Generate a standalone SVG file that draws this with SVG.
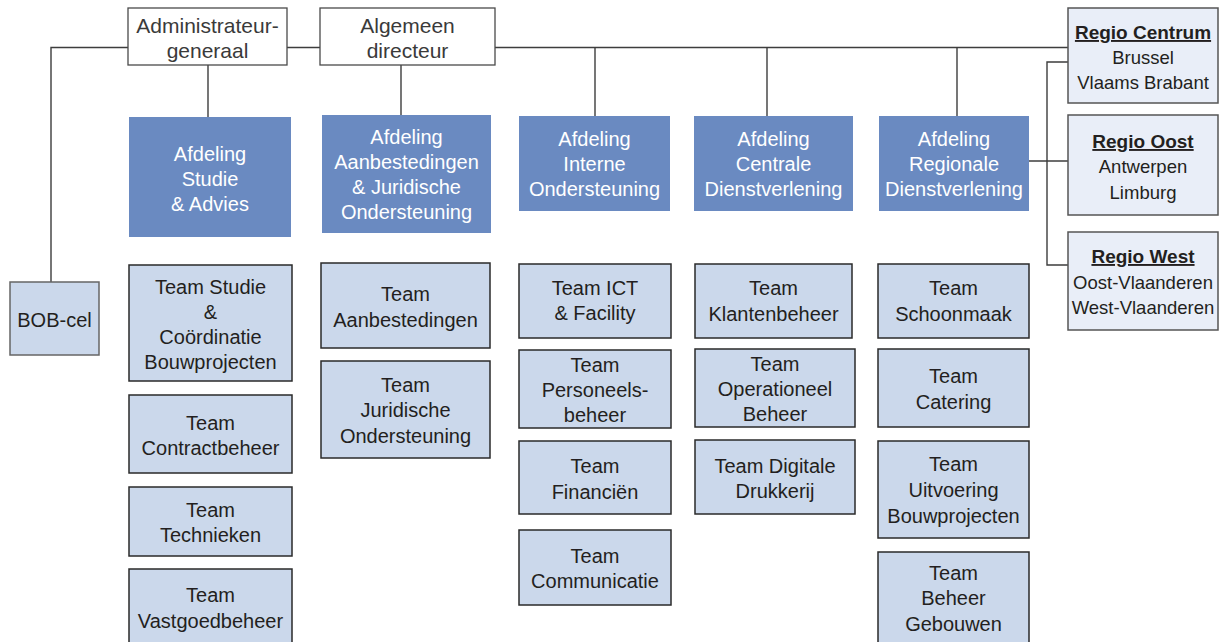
<svg xmlns="http://www.w3.org/2000/svg" width="1222" height="642" viewBox="0 0 1222 642">
<style>
.c{stroke:#3d3d3d;stroke-width:1.4;fill:none}
.top{fill:#fff;stroke:#4a4a4a;stroke-width:1.3}
.afd{fill:#6a8ac1}
.team{fill:#cbd8eb;stroke:#2a2a2a;stroke-width:1.5}
.bob{fill:#cbd8eb;stroke:#666;stroke-width:1.5}
.reg{fill:#e9eef8;stroke:#555;stroke-width:1.5}
text{font-family:"Liberation Sans",Arial,sans-serif;text-anchor:middle}
.tt{font-size:21px;fill:#3a3a3a}
.ta{font-size:20px;fill:#fff}
.tm{font-size:20px;fill:#231f20}
.tr{font-size:18.5px;fill:#231f20}
.trb{font-size:19px;font-weight:bold;text-decoration:underline;fill:#231f20}
</style>
<g id="connectors">
<path class="c" d="M51,282 V47.5 H1068"/>
<path class="c" d="M208,65 V117"/>
<path class="c" d="M401,65 V115"/>
<path class="c" d="M595,47.5 V116"/>
<path class="c" d="M767,47.5 V116"/>
<path class="c" d="M957,47.5 V116"/>
<path class="c" d="M1068,62 H1047 V265 H1068"/>
<path class="c" d="M1029,161 H1068"/>
</g>
<g id="admin"><rect class="top" x="128" y="8" width="159" height="57"/><text class="tt" x="207.5" y="32.5">Administrateur-</text><text class="tt" x="207.5" y="57.5">generaal</text></g>
<g id="algemeen"><rect class="top" x="320" y="8" width="175" height="57"/><text class="tt" x="407.5" y="32.5">Algemeen</text><text class="tt" x="407.5" y="57.5">directeur</text></g>
<g id="afd-studie"><rect class="afd" x="129" y="117" width="162" height="120"/><text class="ta" x="210" y="161">Afdeling</text><text class="ta" x="210" y="186">Studie</text><text class="ta" x="210" y="211">&amp; Advies</text></g>
<g id="afd-aanbest"><rect class="afd" x="322" y="115" width="169" height="118"/><text class="ta" x="406.5" y="144">Afdeling</text><text class="ta" x="406.5" y="169">Aanbestedingen</text><text class="ta" x="406.5" y="194">&amp; Juridische</text><text class="ta" x="406.5" y="219">Ondersteuning</text></g>
<g id="afd-interne"><rect class="afd" x="519" y="116" width="151" height="95"/><text class="ta" x="594.5" y="146">Afdeling</text><text class="ta" x="594.5" y="171">Interne</text><text class="ta" x="594.5" y="196">Ondersteuning</text></g>
<g id="afd-centrale"><rect class="afd" x="694" y="116" width="159" height="95"/><text class="ta" x="773.5" y="146">Afdeling</text><text class="ta" x="773.5" y="171">Centrale</text><text class="ta" x="773.5" y="196">Dienstverlening</text></g>
<g id="afd-regionale"><rect class="afd" x="879" y="116" width="150" height="95"/><text class="ta" x="954" y="146">Afdeling</text><text class="ta" x="954" y="171">Regionale</text><text class="ta" x="954" y="196">Dienstverlening</text></g>
<g id="regio-centrum"><rect class="reg" x="1068" y="8" width="150" height="95"/><text class="trb" x="1143" y="39">Regio Centrum</text><text class="tr" x="1143" y="64">Brussel</text><text class="tr" x="1143" y="89">Vlaams Brabant</text></g>
<g id="regio-oost"><rect class="reg" x="1068" y="115" width="150" height="100"/><text class="trb" x="1143" y="148">Regio Oost</text><text class="tr" x="1143" y="173">Antwerpen</text><text class="tr" x="1143" y="199">Limburg</text></g>
<g id="regio-west"><rect class="reg" x="1068" y="232" width="150" height="98"/><text class="trb" x="1143" y="263">Regio West</text><text class="tr" x="1143" y="289">Oost-Vlaanderen</text><text class="tr" x="1143" y="314">West-Vlaanderen</text></g>
<g id="bob-cel"><rect class="bob" x="10" y="282" width="89" height="73"/><text class="tm" x="54.5" y="327">BOB-cel</text></g>
<g id="team-studie"><rect class="team" x="129" y="265" width="163" height="116"/><text class="tm" x="210.5" y="294">Team Studie</text><text class="tm" x="210.5" y="319">&amp;</text><text class="tm" x="210.5" y="344">Coördinatie</text><text class="tm" x="210.5" y="369">Bouwprojecten</text></g>
<g id="team-contract"><rect class="team" x="129" y="395" width="163" height="78"/><text class="tm" x="210.5" y="430">Team</text><text class="tm" x="210.5" y="455">Contractbeheer</text></g>
<g id="team-technieken"><rect class="team" x="129" y="487" width="163" height="69"/><text class="tm" x="210.5" y="517">Team</text><text class="tm" x="210.5" y="542">Technieken</text></g>
<g id="team-vastgoed"><rect class="team" x="129" y="569" width="163" height="79"/><text class="tm" x="210.5" y="602">Team</text><text class="tm" x="210.5" y="628">Vastgoedbeheer</text></g>
<g id="team-aanbest"><rect class="team" x="321" y="263" width="169" height="85"/><text class="tm" x="405.5" y="301">Team</text><text class="tm" x="405.5" y="327">Aanbestedingen</text></g>
<g id="team-juridisch"><rect class="team" x="321" y="361" width="169" height="97"/><text class="tm" x="405.5" y="392">Team</text><text class="tm" x="405.5" y="417">Juridische</text><text class="tm" x="405.5" y="443">Ondersteuning</text></g>
<g id="team-ict"><rect class="team" x="519" y="264" width="152" height="74"/><text class="tm" x="595" y="295">Team ICT</text><text class="tm" x="595" y="320">&amp; Facility</text></g>
<g id="team-personeel"><rect class="team" x="519" y="350" width="152" height="78"/><text class="tm" x="595" y="372">Team</text><text class="tm" x="595" y="397">Personeels-</text><text class="tm" x="595" y="422">beheer</text></g>
<g id="team-financien"><rect class="team" x="519" y="441" width="152" height="73"/><text class="tm" x="595" y="473">Team</text><text class="tm" x="595" y="499">Financiën</text></g>
<g id="team-communicatie"><rect class="team" x="519" y="530" width="152" height="75"/><text class="tm" x="595" y="563">Team</text><text class="tm" x="595" y="588">Communicatie</text></g>
<g id="team-klanten"><rect class="team" x="695" y="264" width="157" height="74"/><text class="tm" x="773.5" y="295">Team</text><text class="tm" x="773.5" y="321">Klantenbeheer</text></g>
<g id="team-operationeel"><rect class="team" x="695" y="349" width="160" height="78"/><text class="tm" x="775" y="371">Team</text><text class="tm" x="775" y="396">Operationeel</text><text class="tm" x="775" y="421">Beheer</text></g>
<g id="team-digitale"><rect class="team" x="695" y="440" width="160" height="74"/><text class="tm" x="775" y="473">Team Digitale</text><text class="tm" x="775" y="498">Drukkerij</text></g>
<g id="team-schoonmaak"><rect class="team" x="878" y="264" width="151" height="74"/><text class="tm" x="953.5" y="295">Team</text><text class="tm" x="953.5" y="321">Schoonmaak</text></g>
<g id="team-catering"><rect class="team" x="878" y="349" width="151" height="78"/><text class="tm" x="953.5" y="383">Team</text><text class="tm" x="953.5" y="409">Catering</text></g>
<g id="team-uitvoering"><rect class="team" x="878" y="441" width="151" height="97"/><text class="tm" x="953.5" y="471">Team</text><text class="tm" x="953.5" y="497">Uitvoering</text><text class="tm" x="953.5" y="523">Bouwprojecten</text></g>
<g id="team-beheer"><rect class="team" x="878" y="552" width="151" height="94"/><text class="tm" x="953.5" y="580">Team</text><text class="tm" x="953.5" y="605">Beheer</text><text class="tm" x="953.5" y="631">Gebouwen</text></g>
</svg>
